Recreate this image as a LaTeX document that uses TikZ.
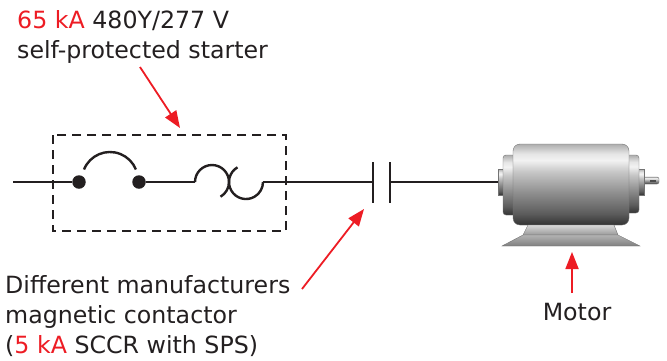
\documentclass[tikz,border=0pt]{standalone}
\usepackage{fontspec}
\setmainfont{DejaVu Sans}
\usetikzlibrary{arrows.meta}
\definecolor{ink}{RGB}{35,31,32}
\definecolor{callred}{RGB}{237,28,36}
\pgfdeclareverticalshading{cyl}{100bp}{color(0bp)=(black!80); color(25bp)=(black!80); color(32bp)=(black!64); color(45bp)=(black!44); color(58bp)=(black!22); color(65bp)=(black!5); color(69bp)=(black!10); color(75bp)=(black!32); color(100bp)=(black!32)}
\pgfdeclareverticalshading{basetop}{100bp}{color(0bp)=(black!40); color(25bp)=(black!40); color(75bp)=(black!15); color(100bp)=(black!15)}
\pgfdeclareverticalshading{baseplate}{100bp}{color(0bp)=(black!50); color(25bp)=(black!50); color(75bp)=(black!30); color(100bp)=(black!30)}
\tikzset{
  wire/.style={line width=2.4pt, ink},
  dot/.style={circle, fill=ink, inner sep=0pt, minimum size=13.5pt},
  dashbox/.style={line width=2.2pt, ink, dash pattern=on 9pt off 6pt},
  callout/.style={line width=1.8pt, callred, -{Triangle[length=17pt,width=13pt]}},
  lbl/.style={anchor=base west, inner sep=0pt, text=ink, font=\fontsize{23.7}{30}\selectfont, align=left},
  motorpart/.style={draw=black!55, line width=0.4pt}
}
\begin{document}
\begin{tikzpicture}[x=1pt,y=-1pt]
\useasboundingbox (0,0) rectangle (667,360);
% labels
\node[lbl] (top1) at (17,28) {\textcolor{callred}{65 kA} 480Y/277 V};
\node[lbl] (top2) at (17,58) {self-protected starter};
\node[lbl] (bot1) at (5,293) {Different manufacturers};
\node[lbl] (bot2) at (5,323) {magnetic contactor};
\node[lbl] (bot3) at (5,353) {(\textcolor{callred}{5 kA} SCCR with SPS)};
\node[lbl, anchor=base] (mot) at (577,320) {Motor};
% dashed starter box
\draw[dashbox] (53,135) rectangle (286,231);
% circuit
\coordinate (L0) at (13,182);
\node[dot] (d1) at (79,182) {};
\node[dot] (d2) at (139,182) {};
\coordinate (ol1) at (195,182);
\coordinate (ol2) at (263,182);
\coordinate (c1) at (373,182);
\coordinate (c2) at (390,182);
\coordinate (m0) at (499,182);
\draw[wire] (L0) -- (d1);
\draw[wire] (84,169.5) arc[start angle=-158, end angle=-22, radius=28];
\draw[wire] (d2) -- (ol1);
\draw[wire] (ol1) arc[start angle=180, end angle=420, radius=17];
\draw[wire] (237.5,167.3) arc[start angle=240, end angle=0, radius=17];
\draw[wire] (ol2) -- (c1);
\draw[wire] (373,162) -- (373,203);
\draw[wire] (390,162) -- (390,203);
\draw[wire] (c2) -- (m0);
% motor
\draw[motorpart, shading=cyl] (498,169) rectangle (505,195);
\draw[motorpart, shading=cyl, rounded corners=3pt] (503,155) rectangle (516,215);
\draw[motorpart, shading=cyl, rounded corners=2pt] (643,177) rectangle (659,184);
\fill[black!70] (650,179.5) rectangle (656,181.5);
\draw[motorpart, shading=cyl] (637,169) rectangle (644,195);
\draw[motorpart, shading=cyl, rounded corners=3pt] (626,155) rectangle (639,213);
\draw[motorpart, shading=cyl, rounded corners=7pt] (513,144) rectangle (629,225);
\draw[motorpart, shading=basetop] (528,225) -- (614,225) -- (618,235) -- (523,235) -- cycle;
\draw[motorpart, shading=baseplate] (523,235) -- (618,235) -- (640,246) -- (502,246) -- cycle;
% callouts
\coordinate (a1s) at (140,67);
\coordinate (a1e) at (180,128);
\coordinate (a2s) at (302,289);
\coordinate (a2e) at (364,209);
\coordinate (a3s) at (572,293);
\coordinate (a3e) at (572,252);
\draw[callout] (a1s) -- (a1e);
\draw[callout] (a2s) -- (a2e);
\draw[callout] (a3s) -- (a3e);
\end{tikzpicture}
\end{document}
